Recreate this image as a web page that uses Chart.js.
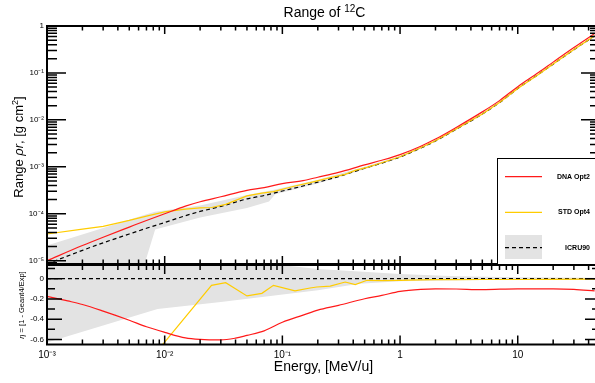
<!DOCTYPE html>
<html>
<head>
<meta charset="utf-8">
<script src="https://cdn.jsdelivr.net/npm/chart.js@4.4.0/dist/chart.umd.min.js"></script>
<style>
  html, body { margin: 0; padding: 0; background: #fff; overflow: hidden; width: 595px; height: 383px; }
  #rango { position: absolute; left: 0; top: 0; }
  #eta { position: absolute; left: 0; top: 264px; }
</style>
</head>
<body>
<canvas id="rango" width="605" height="265"></canvas>
<canvas id="eta" width="605" height="119"></canvas>
<script>
// ---- datos (energía en MeV/u, rango en g/cm2) ----
const nombresSeries = ['DNA Opt2', 'STD Opt4', 'ICRU90'];

const energias = [0.001, 0.002, 0.003, 0.005, 0.007, 0.01, 0.015, 0.02, 0.03, 0.05, 0.07, 0.1, 0.15, 0.2,
  0.3, 0.5, 0.7, 1, 1.5, 2, 3, 5, 7, 10, 15, 20, 30, 45];
const rangoDNA = [1.0e-5, 2.1e-5, 3.16e-5, 5.2e-5, 7.2e-5, 1.0e-4, 1.45e-4, 1.8e-4, 2.3e-4, 3.16e-4, 3.6e-4, 4.4e-4,
  5.1e-4, 6.0e-4, 7.6e-4, 1.10e-3, 1.38e-3, 1.82e-3, 2.75e-3, 3.9e-3, 6.9e-3, 1.48e-2, 2.57e-2, 5.1e-2, 0.102, 0.17,
  0.347, 0.69];
const rangoICRU = [8.5e-6, 1.66e-5, 2.4e-5, 3.7e-5, 4.9e-5, 6.5e-5, 9.1e-5, 1.12e-4, 1.43e-4, 2.07e-4, 2.45e-4, 3.05e-4,
  3.9e-4, 4.7e-4, 6.2e-4, 9.3e-4, 1.20e-3, 1.62e-3, 2.51e-3, 3.55e-3, 6.3e-3, 1.33e-2, 2.33e-2, 4.65e-2, 9.3e-2, 0.154,
  0.313, 0.617];

const energiasSTD = [0.001, 0.002, 0.003, 0.005, 0.007, 0.01, 0.015, 0.02, 0.025, 0.033, 0.05, 0.067, 0.084, 0.128,
  0.172, 0.255, 0.342, 0.416, 0.524, 0.7, 1, 1.5, 2, 3, 5, 7, 10, 15, 20, 30, 45];
const rangoSTD = [3.7e-5, 4.7e-5, 5.4e-5, 7.2e-5, 8.9e-5, 1.10e-4, 1.26e-4, 1.33e-4, 1.36e-4, 1.58e-4, 2.4e-4, 2.75e-4,
  2.95e-4, 3.9e-4, 4.6e-4, 5.9e-4, 6.9e-4, 8.4e-4, 9.7e-4, 1.22e-3, 1.64e-3, 2.54e-3, 3.58e-3, 6.37e-3, 1.34e-2,
  2.34e-2, 4.68e-2, 9.3e-2, 0.155, 0.314, 0.62];

// banda de incertidumbre ICRU90
const bandaE = [0.001, 0.003, 0.0068, 0.0083, 0.02, 0.05, 0.077, 0.087, 0.2, 0.5, 1, 2, 5, 10, 20, 45];
const bandaSup = [2.1e-5, 5.0e-5, 9.5e-5, 1.1e-4, 1.5e-4, 2.5e-4, 3.1e-4, 3.3e-4, 5.3e-4, 1.0e-3, 1.7e-3, 3.65e-3,
  1.37e-2, 4.75e-2, 0.157, 0.635];
const bandaInf = [1e-6, 1e-6, 9e-6, 4.6e-5, 8.3e-5, 1.32e-4, 1.83e-4, 2.6e-4, 4.4e-4, 8.9e-4, 1.56e-3, 3.45e-3,
  1.29e-2, 4.55e-2, 0.151, 0.60];

// panel inferior: eta = 1 - Geant4/Exp
const energiasEtaDNA = [0.001, 0.0015, 0.002, 0.003, 0.005, 0.007, 0.01, 0.015, 0.02, 0.03, 0.04, 0.05, 0.07, 0.1,
  0.15, 0.2, 0.3, 0.5, 0.7, 1, 1.5, 2, 3, 5, 10, 20, 30, 45];
const etaDNA = [-0.174, -0.22, -0.255, -0.32, -0.41, -0.475, -0.53, -0.585, -0.6, -0.605, -0.587, -0.56, -0.515, -0.43,
  -0.36, -0.31, -0.263, -0.198, -0.165, -0.125, -0.105, -0.1, -0.102, -0.108, -0.1, -0.1, -0.105, -0.12];

const energiasEtaSTD = [0.005, 0.025, 0.033, 0.05, 0.067, 0.084, 0.128, 0.172, 0.196, 0.255, 0.342, 0.416, 0.524,
  0.7, 1, 1.5, 2, 3, 5, 10, 20, 45];
const etaSTD = [-1.05, -0.066, -0.04, -0.17, -0.145, -0.066, -0.12, -0.092, -0.082, -0.073, -0.033, -0.059, -0.016,
  -0.02, -0.016, -0.012, -0.01, -0.01, -0.008, -0.008, -0.006, -0.005];

const energiasEtaICRU = [0.001, 50];
const etaICRU = [0, 0];

const bandaEtaE = [0.001, 0.0087, 0.03, 0.2, 0.45, 1, 3, 10, 45];
const bandaEtaSup = [0.6, 0.3, 0.2, 0.095, 0.07, 0.045, 0.025, 0.015, 0.01];
const bandaEtaInf = [-0.63, -0.30, -0.23, -0.115, -0.05, -0.026, -0.015, -0.01, -0.008];

// etiquetas de ejes
const valoresX = [0.001, 0.01, 0.1, 1, 10];
const etiquetasX = ['10\u207B\u00B3', '10\u207B\u00B2', '10\u207B\u00B9', '1', '10'];
const valoresYRango = [1e-5, 1e-4, 1e-3, 1e-2, 1e-1, 1];
const etiquetasYRango = ['10\u207B\u2075', '10\u207B\u2074', '10\u207B\u00B3', '10\u207B\u00B2', '10\u207B\u00B9', '1'];
const valoresYEta = [-0.6, -0.4, -0.2, 0];
const etiquetasYEta = ['-0.6', '-0.4', '-0.2', '0'];


const ROJO = '#ff1a1a';
const AMARILLO = '#ffcc00';
const GRIS = '#e3e3e3';
const FUENTE = "'Liberation Sans', Arial, Helvetica, sans-serif";

Chart.defaults.font.family = FUENTE;
Chart.defaults.color = '#000';

const puntos = (xs, ys) => xs.map((x, i) => ({ x: x, y: ys[i] }));

// texto con partes (superíndices, cursiva), centrado en (x, y)
function textoRico(ctx, partes, x, y, rot) {
  ctx.save();
  ctx.translate(x, y);
  ctx.rotate(rot || 0);
  ctx.textAlign = 'left';
  ctx.textBaseline = 'alphabetic';
  ctx.fillStyle = '#000';
  let total = 0;
  partes.forEach(p => { ctx.font = p.f; total += ctx.measureText(p.t).width; });
  let cx = -total / 2;
  partes.forEach(p => {
    ctx.font = p.f;
    ctx.fillText(p.t, cx, p.dy || 0);
    cx += ctx.measureText(p.t).width;
  });
  ctx.restore();
}

// marco estilo ROOT con marcas hacia dentro
function crearMarco(cfg) {
  return {
    id: 'marco',
    afterDatasetsDraw(chart) {
      const { ctx, chartArea: a } = chart;
      const xs = chart.scales.x, ys = chart.scales.y;
      ctx.save();
      ctx.strokeStyle = '#000';
      ctx.lineWidth = 1.5;
      ctx.beginPath();
      for (let d = -3; d <= 1; d++) {
        for (let k = 1; k <= 9; k++) {
          const v = k * Math.pow(10, d);
          if (v < xs.min || v > xs.max) continue;
          const px = xs.getPixelForValue(v);
          const l = k === 1 ? cfg.xMayor : cfg.xMenor;
          ctx.moveTo(px, a.bottom); ctx.lineTo(px, a.bottom - l);
          ctx.moveTo(px, a.top); ctx.lineTo(px, a.top + l);
        }
      }
      cfg.marcasY.forEach(m => {
        if (m.v < ys.min || m.v > ys.max) return;
        const py = ys.getPixelForValue(m.v);
        const l = m.mayor ? cfg.yMayor : cfg.yMenor;
        ctx.moveTo(a.left, py); ctx.lineTo(a.left + l, py);
        ctx.moveTo(a.right, py); ctx.lineTo(a.right - l, py);
      });
      ctx.stroke();
      ctx.lineWidth = 2;
      ctx.strokeRect(a.left, a.top, a.right - a.left, a.bottom - a.top);
      ctx.restore();
    }
  };
}

const marcasLog = [];
for (let d = -6; d <= 0; d++) {
  for (let k = 1; k <= 9; k++) marcasLog.push({ v: k * Math.pow(10, d), mayor: k === 1 });
}
const marcasLin = [];
for (let i = -6; i <= 1; i++) marcasLin.push({ v: i / 10, mayor: i % 2 === 0 });

// título, eje y y leyenda del panel superior
const textosRango = {
  id: 'textosRango',
  afterDraw(chart) {
    const ctx = chart.ctx;
    textoRico(ctx, [
      { t: 'Range of ', f: '14px ' + FUENTE },
      { t: '12', f: '10px ' + FUENTE, dy: -5 },
      { t: 'C', f: '14px ' + FUENTE }
    ], 324.5, 17);
    textoRico(ctx, [
      { t: 'Range ', f: '13px ' + FUENTE },
      { t: '\u03C1r', f: 'italic 13px ' + FUENTE },
      { t: ', [g cm', f: '13px ' + FUENTE },
      { t: '2', f: '9px ' + FUENTE, dy: -5 },
      { t: ']', f: '13px ' + FUENTE }
    ], 23, 147, -Math.PI / 2);

    // leyenda
    const dsets = chart.data.datasets;
    ctx.save();
    ctx.fillStyle = '#fff';
    ctx.fillRect(497, 158, 110, 106);
    ctx.strokeStyle = '#000';
    ctx.lineWidth = 1;
    ctx.strokeRect(497.5, 158.5, 110, 106);
    const filas = [176.7, 212.3, 247.7];
    ctx.fillStyle = GRIS;
    ctx.fillRect(505, 235, 37, 24);
    ctx.font = 'bold 7px ' + FUENTE;
    ctx.textAlign = 'right';
    ctx.textBaseline = 'middle';
    filas.forEach((y, i) => {
      ctx.beginPath();
      ctx.strokeStyle = dsets[i].borderColor;
      ctx.lineWidth = 1.2;
      ctx.setLineDash(dsets[i].borderDash || []);
      ctx.moveTo(505, y);
      ctx.lineTo(542, y);
      ctx.stroke();
      ctx.fillStyle = '#000';
      ctx.fillText(nombresSeries[i], 590, y);
    });
    ctx.restore();
  }
};

const textosEta = {
  id: 'textosEta',
  afterDraw(chart) {
    textoRico(chart.ctx, [
      { t: '\u03B7', f: 'italic 7.5px ' + FUENTE },
      { t: ' = [1 - Geant4/Exp]', f: '7.5px ' + FUENTE }
    ], 23.5, 41, -Math.PI / 2);
  }
};

function ejeY(valores, etiquetas, extra) {
  return Object.assign({
    grid: { display: false, drawTicks: false },
    border: { display: false },
    ticks: {
      autoSkip: false,
      font: { size: 8 },
      callback: (v, i) => etiquetas[i]
    },
    afterBuildTicks: s => { s.ticks = valores.map(v => ({ value: v })); },
    afterFit: s => { s.width = 47; s.paddingTop = 0; s.paddingBottom = 0; }
  }, extra);
}

new Chart(document.getElementById('rango'), {
  type: 'line',
  data: {
    datasets: [
      { label: nombresSeries[0], data: puntos(energias, rangoDNA), borderColor: ROJO, borderWidth: 1.2,
        pointRadius: 0, cubicInterpolationMode: 'monotone', fill: false },
      { label: nombresSeries[1], data: puntos(energiasSTD, rangoSTD), borderColor: AMARILLO, borderWidth: 1.2,
        pointRadius: 0, tension: 0, fill: false },
      { label: nombresSeries[2], data: puntos(energias, rangoICRU), borderColor: '#000', borderDash: [4, 3],
        borderWidth: 1.2, pointRadius: 0, cubicInterpolationMode: 'monotone', fill: false },
      { label: 'sup', data: puntos(bandaE, bandaSup), borderWidth: 0, pointRadius: 0, backgroundColor: GRIS, fill: '+1' },
      { label: 'inf', data: puntos(bandaE, bandaInf), borderWidth: 0, pointRadius: 0, fill: false }
    ]
  },
  options: {
    responsive: false,
    animation: false,
    devicePixelRatio: 1,
    layout: { padding: { left: 0, top: 26, right: 5, bottom: 1 } },
    plugins: { legend: { display: false }, tooltip: { enabled: false } },
    scales: {
      x: { type: 'logarithmic', min: 0.001, max: 50, display: false },
      y: ejeY(valoresYRango, etiquetasYRango, { type: 'logarithmic', min: 8.5e-6, max: 1 })
    }
  },
  plugins: [crearMarco({ xMayor: 8, xMenor: 4.5, yMayor: 19, yMenor: 10, marcasY: marcasLog }), textosRango]
});

const ejeYEta = ejeY(valoresYEta, etiquetasYEta, { type: 'linear', min: -0.65, max: 0.135 });
ejeYEta.ticks.padding = 3;
const ejeYRangoPad = 6;

new Chart(document.getElementById('eta'), {
  type: 'line',
  data: {
    datasets: [
      { label: nombresSeries[0], data: puntos(energiasEtaDNA, etaDNA), borderColor: ROJO, borderWidth: 1.2,
        pointRadius: 0, cubicInterpolationMode: 'monotone', fill: false },
      { label: nombresSeries[1], data: puntos(energiasEtaSTD, etaSTD), borderColor: AMARILLO, borderWidth: 1.2,
        pointRadius: 0, tension: 0, fill: false },
      { label: nombresSeries[2], data: puntos(energiasEtaICRU, etaICRU), borderColor: '#000', borderDash: [4, 3],
        borderWidth: 1.2, pointRadius: 0, fill: false },
      { label: 'sup', data: puntos(bandaEtaE, bandaEtaSup), borderWidth: 0, pointRadius: 0, backgroundColor: GRIS, fill: '+1' },
      { label: 'inf', data: puntos(bandaEtaE, bandaEtaInf), borderWidth: 0, pointRadius: 0, fill: false }
    ]
  },
  options: {
    responsive: false,
    animation: false,
    devicePixelRatio: 1,
    layout: { padding: { left: 0, top: 1, right: 5, bottom: 0 } },
    plugins: { legend: { display: false }, tooltip: { enabled: false } },
    scales: {
      x: {
        type: 'logarithmic', min: 0.001, max: 50,
        grid: { display: false, drawTicks: false },
        border: { display: false },
        ticks: { autoSkip: false, maxRotation: 0, padding: 5, font: { size: 10 }, callback: (v, i) => etiquetasX[i] },
        afterBuildTicks: s => { s.ticks = valoresX.map(v => ({ value: v })); },
        afterFit: s => { s.height = 38.5; s.paddingLeft = 0; s.paddingRight = 0; },
        title: { display: true, text: 'Energy, [MeV/u]', font: { size: 14 }, padding: { top: 0, bottom: 7.6 } }
      },
      y: ejeYEta
    }
  },
  plugins: [crearMarco({ xMayor: 9, xMenor: 5, yMayor: 15, yMenor: 8, marcasY: marcasLin }), textosEta]
});
</script>
</body>
</html>
